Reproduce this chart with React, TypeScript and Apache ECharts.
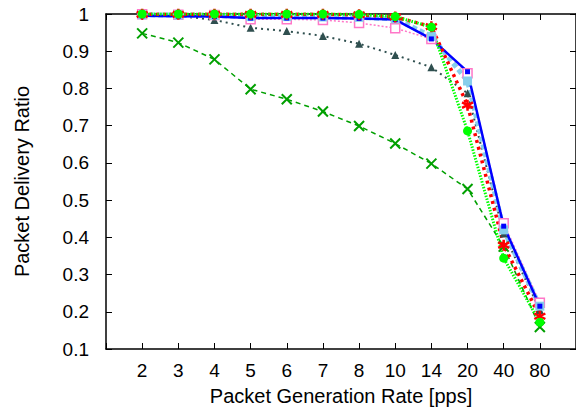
import React, { useEffect, useRef } from "react";
import * as echarts from "echarts";

const categories = ["2", "3", "4", "5", "6", "7", "8", "10", "14", "20", "40", "80"];

const seriesDarkGreen = [0.948, 0.923, 0.878, 0.798, 0.771, 0.738, 0.699, 0.652, 0.598, 0.53, 0.375, 0.159];
const seriesSlate = [0.997, 0.995, 0.984, 0.963, 0.954, 0.941, 0.92, 0.89, 0.857, 0.787, 0.41, 0.205];
const seriesPink = [0.999, 0.998, 0.997, 0.986, 0.986, 0.984, 0.976, 0.962, 0.933, 0.841, 0.438, 0.224];
const seriesLightBlue = [0.998, 0.997, 0.996, 0.993, 0.993, 0.992, 0.991, 0.987, 0.94, 0.82, 0.42, 0.215];
const seriesBlue = [0.995, 0.994, 0.993, 0.989, 0.989, 0.989, 0.988, 0.985, 0.933, 0.845, 0.43, 0.215];
const seriesRed = [0.999, 0.999, 0.999, 0.999, 0.999, 0.999, 0.998, 0.992, 0.966, 0.755, 0.379, 0.188];
const seriesGreen = [1, 1, 1, 1, 1, 1, 0.999, 0.993, 0.965, 0.686, 0.344, 0.172];

const FONT = "'Liberation Sans', Arial, Helvetica, sans-serif";

const toPairs = (vals: number[]) => vals.map((v, i) => [i, v]);

const CROSS = "path://M0,0L10,10M0,10L10,0";
const STAR = "path://M5,0L5,10M0.7,2.5L9.3,7.5M0.7,7.5L9.3,2.5";

export default function App() {
  const ref = useRef<HTMLDivElement>(null);
  useEffect(() => {
    if (!ref.current) return;
    const chart = echarts.init(ref.current, undefined, { renderer: "svg" });
    const xCommon = {
      type: "value" as const,
      min: -1,
      max: 12,
      interval: 1,
      splitLine: { show: false },
      axisLine: { show: true, onZero: false, lineStyle: { color: "#000", width: 1.5 } },
      axisTick: { show: true, inside: true, length: 6, lineStyle: { color: "#000", width: 1 } },
    };
    const yCommon = {
      type: "value" as const,
      min: 0.1,
      max: 1,
      interval: 0.1,
      splitLine: { show: false },
      axisLine: { show: true, onZero: false, lineStyle: { color: "#000", width: 1.5 } },
      axisTick: { show: true, inside: true, length: 6, lineStyle: { color: "#000", width: 1 } },
    };
    const line = (
      data: number[],
      color: string,
      width: number,
      type: any,
      symbol: string,
      size: number,
      itemStyle: any
    ) => ({
      type: "line",
      data: toPairs(data),
      symbol,
      symbolSize: size,
      showSymbol: true,
      lineStyle: { color, width, type },
      itemStyle,
      emphasis: { disabled: true },
    });
    chart.setOption({
      animation: false,
      grid: { left: 106, right: 8, top: 14, bottom: 67 },
      xAxis: [
        {
          ...xCommon,
          position: "bottom",
          name: "Packet Generation Rate [pps]",
          nameLocation: "middle",
          nameGap: 37,
          nameTextStyle: { fontFamily: FONT, fontSize: 20, color: "#000" },
          axisLabel: {
            fontFamily: FONT,
            fontSize: 19,
            color: "#000",
            margin: 12,
            formatter: (v: number) => categories[v] ?? "",
          },
        },
        { ...xCommon, position: "top", axisLabel: { show: false } },
      ],
      yAxis: [
        {
          ...yCommon,
          position: "left",
          name: "Packet Delivery Ratio",
          nameLocation: "middle",
          nameGap: 74,
          nameTextStyle: { fontFamily: FONT, fontSize: 20, color: "#000" },
          axisLabel: {
            fontFamily: FONT,
            fontSize: 19,
            color: "#000",
            margin: 17,
            formatter: (v: number) => String(parseFloat(v.toFixed(1))),
          },
        },
        { ...yCommon, position: "right", axisLabel: { show: false } },
      ],
      series: [
        line(seriesDarkGreen, "#00a000", 1.5, [5, 4], CROSS, 10, {
          color: "#00a000",
          borderColor: "#00a000",
          borderWidth: 2,
        }),
        line(seriesSlate, "#2f4f4f", 2, [2, 4], "triangle", 8, { color: "#2f4f4f" }),
        line(seriesPink, "#ff77c8", 1.5, [2, 2], "rect", 9, {
          color: "#ffffff",
          borderColor: "#ff77c8",
          borderWidth: 1.5,
        }),
        line(seriesLightBlue, "#87ceeb", 5, [5, 3], "rect", 9, { color: "#87ceeb" }),
        line(seriesBlue, "#0000ff", 2.5, "solid", "rect", 5, { color: "#0000ff" }),
        line(seriesRed, "#ff0000", 3.5, [3, 4], STAR, 11, {
          color: "#ff0000",
          borderColor: "#ff0000",
          borderWidth: 2.5,
        }),
        line(seriesGreen, "#00ff00", 3, [1.5, 1.5], "circle", 9, { color: "#00ff00" }),
      ],
    });
    return () => chart.dispose();
  }, []);
  return <div ref={ref} style={{ width: 584, height: 416, margin: -8 }} />;
}
